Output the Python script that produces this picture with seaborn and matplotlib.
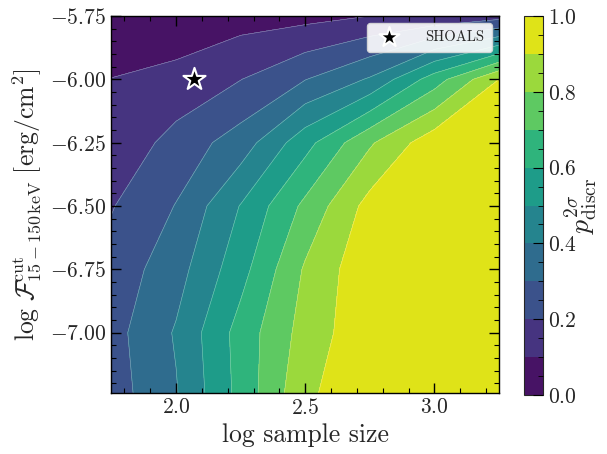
import numpy as np
import matplotlib
matplotlib.use('Agg')
import matplotlib.pyplot as plt
from matplotlib.ticker import MultipleLocator
import seaborn as sns

# grid: log sample size (x) and log flux cut (y)
log_size = [1.75, 2.0, 2.25, 2.5, 2.75, 3.0, 3.25]
log_flux = [-7.25, -7.0, -6.75, -6.5, -6.25, -6.0, -5.75]

# discrimination probability, one list per flux row (bottom to top)
p_m725 = [0.253, 0.392, 0.633, 0.882, 0.975, 0.995, 1.0]
p_m700 = [0.263, 0.410, 0.640, 0.841, 0.975, 0.990, 1.0]
p_m675 = [0.239, 0.359, 0.563, 0.813, 0.977, 0.995, 1.0]
p_m650 = [0.194, 0.304, 0.505, 0.724, 0.937, 0.980, 0.995]
p_m625 = [0.115, 0.241, 0.346, 0.564, 0.786, 0.965, 0.985]
p_m600 = [0.102, 0.120, 0.198, 0.297, 0.411, 0.651, 0.900]
p_m575 = [0.020, 0.055, 0.057, 0.069, 0.100, 0.120, 0.160]

# SHOALS sample position
shoals_x = [2.07]
shoals_y = [-6.0]

sns.set_style('ticks')
plt.rcParams['font.family'] = 'serif'
plt.rcParams['font.serif'] = ['cmr10']
plt.rcParams['mathtext.fontset'] = 'cm'
plt.rcParams['axes.formatter.use_mathtext'] = True
plt.rcParams['axes.unicode_minus'] = True

Z = np.array([p_m725, p_m700, p_m675, p_m650, p_m625, p_m600, p_m575])
X, Y = np.meshgrid(log_size, log_flux)
levels = np.linspace(0, 1, 11)
cmap = sns.color_palette('viridis', as_cmap=True)

fig = plt.figure(figsize=(6.07, 4.54), dpi=100)
ax = fig.add_axes([111 / 607, 61 / 454, 388 / 607, 377 / 454])
cax = fig.add_axes([524 / 607, 59 / 454, 19 / 607, 379 / 454])

cs = ax.contourf(X, Y, Z, levels=levels, cmap=cmap, vmin=0, vmax=1)
ax.contour(X, Y, Z, levels=levels[1:-1], colors='white', linewidths=0.4, alpha=0.45)

sns.scatterplot(x=shoals_x, y=shoals_y, marker='*', s=280, color='black',
                edgecolor='white', linewidth=1.5, label='SHOALS', ax=ax, zorder=5)

ax.set_axisbelow(False)
ax.set_xlim(1.748, 3.25)
ax.set_ylim(-7.238, -5.75)
ax.xaxis.set_major_locator(MultipleLocator(0.5))
ax.xaxis.set_minor_locator(MultipleLocator(0.1))
ax.yaxis.set_major_locator(MultipleLocator(0.25))
ax.yaxis.set_minor_locator(MultipleLocator(0.05))
ax.tick_params(which='both', direction='in', top=True, right=True, labelsize=15.5,
               color='black')
ax.tick_params(which='major', length=7, width=1)
ax.tick_params(which='minor', length=3.5, width=0.8)
for s in ax.spines.values():
    s.set_linewidth(1.0)
    s.set_color('black')
    s.set_zorder(6)

ax.set_xlabel('log sample size', fontsize=18.5)
ax.set_ylabel(r'$\log\,\mathcal{F}^{\rm cut}_{15-150\,\rm keV}\ [\rm erg/cm^2]$', fontsize=18.5)

leg = ax.legend(loc='upper right', fontsize=10.5, frameon=True, fancybox=True,
                framealpha=0.9, edgecolor='0.85', handletextpad=1.5,
                borderpad=0.5, markerscale=0.9)

cb = fig.colorbar(cs, cax=cax)
cax.set_axisbelow(False)
cb.set_ticks([0.0, 0.2, 0.4, 0.6, 0.8, 1.0])
cb.ax.yaxis.set_minor_locator(MultipleLocator(0.05))
cb.ax.tick_params(which='both', direction='in', labelsize=15.5, color='black')
cb.ax.tick_params(which='major', length=7)
cb.ax.tick_params(which='minor', length=3.5)
cb.set_label(r'$p^{2\sigma}_{\rm discr}$', fontsize=20, labelpad=-10)
cb.outline.set_linewidth(0.8)

fig.savefig('out.png', dpi=100)
